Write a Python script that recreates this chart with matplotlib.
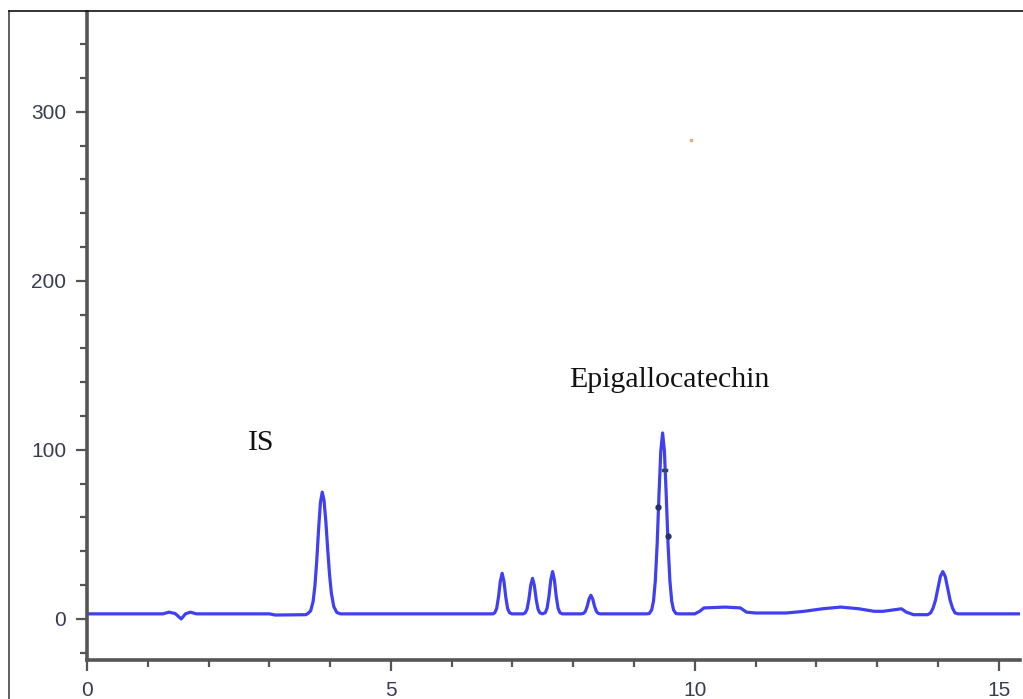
import matplotlib
matplotlib.use("Agg")
import matplotlib.pyplot as plt
from matplotlib.lines import Line2D
from matplotlib.ticker import MultipleLocator

# Retention time (min) and detector signal
time = [0.00, 1.25, 1.35, 1.45, 1.55, 1.62, 1.70, 1.80, 3.00, 3.10, 3.60,
        3.63, 3.68, 3.72, 3.75, 3.78, 3.81, 3.84, 3.87, 3.90, 3.93, 3.96, 3.99, 4.02, 4.06, 4.11, 4.17,
        5.50, 6.68, 6.71, 6.74, 6.77, 6.80, 6.83, 6.86, 6.89, 6.92, 6.95, 6.99,
        7.18, 7.21, 7.24, 7.27, 7.30, 7.33, 7.36, 7.39, 7.42, 7.45, 7.495,
        7.54, 7.57, 7.60, 7.63, 7.66, 7.69, 7.72, 7.75, 7.78, 7.82,
        8.13, 8.17, 8.20, 8.23, 8.26, 8.29, 8.32, 8.35, 8.38, 8.41, 8.45,
        9.21, 9.25, 9.29, 9.32, 9.35, 9.38, 9.41, 9.44, 9.47, 9.50, 9.53, 9.56, 9.59, 9.62, 9.65, 9.69, 9.73,
        10.00, 10.08, 10.15, 10.50, 10.75, 10.85, 11.00, 11.50, 11.80, 12.10, 12.40,
        12.70, 12.95, 13.10, 13.30, 13.40, 13.48, 13.60, 13.83,
        13.88, 13.92, 13.96, 14.00, 14.04, 14.08, 14.12, 14.16, 14.20, 14.24, 14.28, 14.33,
        14.50, 15.40]
signal = [3.0, 3.0, 4.0, 3.2, 0.0, 3.0, 4.0, 3.0, 3.0, 2.3, 2.5,
          3.1, 4.8, 10.3, 19.6, 34.5, 52.9, 68.7, 75.0, 70.1, 57.4, 41.2, 26.4, 15.4, 7.3, 3.8, 3.0,
          3.0, 3.0, 3.7, 6.2, 12.9, 22.2, 27.0, 22.2, 12.9, 6.2, 3.7, 3.0,
          3.0, 3.6, 5.8, 11.6, 19.8, 24.0, 19.8, 11.6, 5.8, 3.6, 3.0,
          3.7, 6.4, 13.3, 23.0, 28.0, 23.0, 13.3, 6.4, 3.7, 3.0,
          3.0, 3.3, 4.5, 7.5, 11.8, 14.0, 11.8, 7.5, 4.5, 3.3, 3.0,
          3.0, 3.2, 5.3, 10.5, 22.5, 44.0, 72.9, 99.2, 110.0, 99.2, 72.9, 44.0, 22.5, 10.5, 5.3, 3.2, 3.0,
          3.0, 4.5, 6.5, 7.0, 6.5, 4.0, 3.5, 3.5, 4.5, 6.0, 7.0,
          6.0, 4.5, 4.5, 5.5, 6.0, 4.0, 2.5, 2.5,
          3.6, 6.4, 11.1, 18.2, 25.1, 28.0, 25.1, 18.2, 11.1, 6.4, 3.6, 3.0,
          3.0, 3.0]

# Integration markers on the main peak
mark_time = [9.40, 9.555]
mark_signal = [66, 49]
dash_time = [9.47, 9.53]
dash_signal = [88, 88]

labels = ["IS", "Epigallocatechin"]
label_time = [2.65, 7.93]
label_signal = [100, 137]

fig = plt.figure(figsize=(10.23, 6.99), dpi=100)
ax = fig.add_axes([87 / 1023, 1 - 660 / 699, (1020 - 87) / 1023, (660 - 12) / 699])

ax.plot(time, signal, color="#4040f2", lw=2.3, solid_joinstyle="round")
ax.plot(mark_time, mark_signal, "o", ms=3.5, color="#25306a", zorder=3)
ax.plot(dash_time, dash_signal, color="#2d4a5a", lw=2.5, zorder=3)
ax.plot([9.93], [283], "s", ms=2, color="#d8a070", alpha=0.8)

ax.set_xlim(0, 15.35)
ax.set_ylim(-24.3, 359)
ax.xaxis.set_major_locator(MultipleLocator(5))
ax.xaxis.set_minor_locator(MultipleLocator(1))
ax.yaxis.set_major_locator(MultipleLocator(100))
ax.yaxis.set_minor_locator(MultipleLocator(20))

for s in ["top", "right"]:
    ax.spines[s].set_visible(False)
for s in ["left", "bottom"]:
    ax.spines[s].set_color("#555555")
    ax.spines[s].set_linewidth(2.6)

ax.tick_params(which="major", length=8, width=1.6, color="#555555", pad=7,
               labelsize=15, labelcolor="#3a3a50")
ax.tick_params(which="minor", length=5, width=1.6, color="#555555")
for lab in ax.get_xticklabels() + ax.get_yticklabels():
    lab.set_family("Liberation Sans")

for txt, tx, ty in zip(labels, label_time, label_signal):
    ax.text(tx, ty, txt, family="Liberation Serif", fontsize=21.5, color="#111111",
            ha="left", va="baseline")

# figure frame (left and top edges)
fig.add_artist(Line2D([9 / 1023, 9 / 1023], [0, 1 - 11 / 699], transform=fig.transFigure,
                      color="#444444", lw=1.2))
fig.add_artist(Line2D([9 / 1023, 1], [1 - 11 / 699, 1 - 11 / 699], transform=fig.transFigure,
                      color="#111111", lw=1.2))

fig.savefig("out.png", dpi=100)
